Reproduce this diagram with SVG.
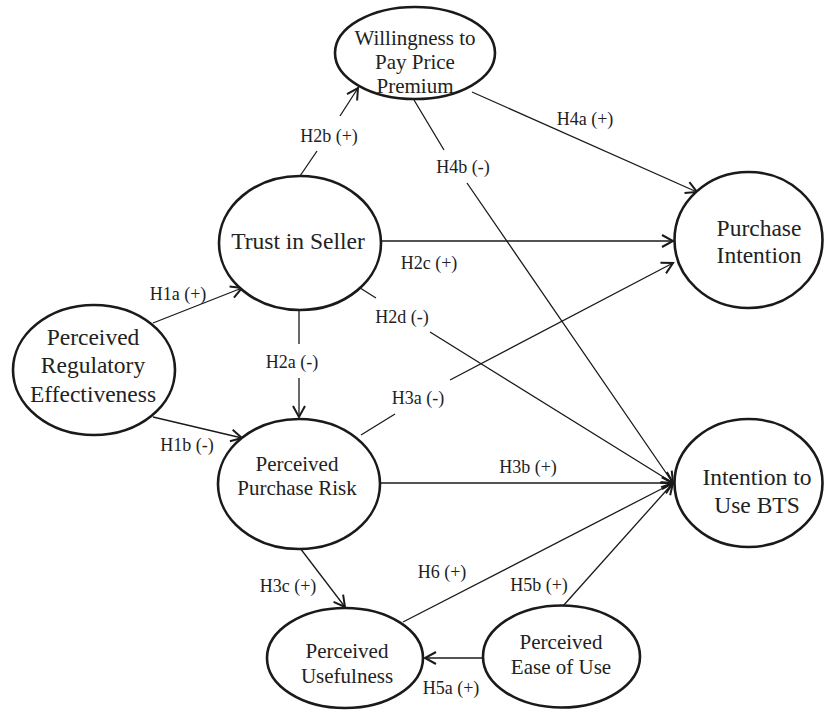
<svg xmlns="http://www.w3.org/2000/svg" width="824" height="710" viewBox="0 0 824 710">
<defs>
<style>
.node{fill:#fff;stroke:#1a1a1a;stroke-width:2.6}
text{font-family:'Liberation Serif','DejaVu Serif',serif;fill:#222;text-anchor:middle}
.big{font-size:23.5px}
.sm{font-size:21px}
.lbl{font-size:18px}
.edge{fill:none;stroke:#1a1a1a;stroke-width:1.3}
</style>
<marker id="arr" markerUnits="userSpaceOnUse" markerWidth="16" markerHeight="16" viewBox="-12 -8 14 16" refX="0" refY="0" orient="auto">
<path d="M-11,-6 L0,0 L-11,6" fill="none" stroke="#1a1a1a" stroke-width="2"/>
</marker>
</defs>
<rect width="824" height="710" fill="#fff"/>
<g id="connectors" font-family="Liberation Serif, serif">
<path class="edge" d="M153,323 L242,288" marker-end="url(#arr)"/>
<path class="edge" d="M153,417 L242,438" marker-end="url(#arr)"/>
<path class="edge" d="M299,310 L299,344 M299,378 L299,417" marker-end="url(#arr)"/>
<path class="edge" d="M300,176 L317,151 M340,116 L358,88" marker-end="url(#arr)"/>
<path class="edge" d="M380,241 L673,241" marker-end="url(#arr)"/>
<path class="edge" d="M357,286 L376,298 M430,332 L673,483" marker-end="url(#arr)"/>
<path class="edge" d="M361,435 L395,414 M450,380 L673,263" marker-end="url(#arr)"/>
<path class="edge" d="M380,483 L673,483" marker-end="url(#arr)"/>
<path class="edge" d="M300,548 L345,607" marker-end="url(#arr)"/>
<path class="edge" d="M472,92 L697,192" marker-end="url(#arr)"/>
<path class="edge" d="M414,100 L444,150 M467,183 L673,483" marker-end="url(#arr)"/>
<path class="edge" d="M483,658 L425,658" marker-end="url(#arr)"/>
<path class="edge" d="M563,606 L673,483" marker-end="url(#arr)"/>
<path class="edge" d="M403,622 L673,483" marker-end="url(#arr)"/>
<text class="lbl" x="178" y="300">H1a (+)</text>
<text class="lbl" x="187" y="451">H1b (-)</text>
<text class="lbl" x="292" y="368">H2a (-)</text>
<text class="lbl" x="329" y="142">H2b (+)</text>
<text class="lbl" x="429" y="269">H2c (+)</text>
<text class="lbl" x="402" y="323">H2d (-)</text>
<text class="lbl" x="418" y="404">H3a (-)</text>
<text class="lbl" x="528" y="473">H3b (+)</text>
<text class="lbl" x="288" y="592">H3c (+)</text>
<text class="lbl" x="585" y="125">H4a (+)</text>
<text class="lbl" x="463" y="173">H4b (-)</text>
<text class="lbl" x="451" y="694">H5a (+)</text>
<text class="lbl" x="539" y="591">H5b (+)</text>
<text class="lbl" x="442" y="578">H6 (+)</text>
</g>
<g id="wtp">
<ellipse class="node" cx="415" cy="53" rx="80" ry="46"/>
<text class="sm" x="415" y="45">Willingness to</text>
<text class="sm" x="415" y="69">Pay Price</text>
<text class="sm" x="415" y="93">Premium</text>
</g>
<g id="trust">
<ellipse class="node" cx="300" cy="243" rx="81" ry="67"/>
<text class="big" x="298" y="249">Trust in Seller</text>
</g>
<g id="pre">
<ellipse class="node" cx="94" cy="370" rx="81" ry="65"/>
<text class="big" x="93" y="345">Perceived</text>
<text class="big" x="93" y="373">Regulatory</text>
<text class="big" x="93" y="402">Effectiveness</text>
</g>
<g id="pi">
<ellipse class="node" cx="748.5" cy="240" rx="74" ry="68"/>
<text class="big" x="759" y="236">Purchase</text>
<text class="big" x="759" y="263">Intention</text>
</g>
<g id="iub">
<ellipse class="node" cx="748.5" cy="483" rx="74" ry="64"/>
<text class="big" x="757" y="485">Intention to</text>
<text class="big" x="757" y="513">Use BTS</text>
</g>
<g id="ppr">
<ellipse class="node" cx="299" cy="484" rx="81" ry="65"/>
<text class="sm" x="297" y="471">Perceived</text>
<text class="sm" x="297" y="495">Purchase Risk</text>
</g>
<g id="pu">
<ellipse class="node" cx="345" cy="658" rx="78" ry="50"/>
<text class="sm" x="347" y="658">Perceived</text>
<text class="sm" x="347" y="683">Usefulness</text>
</g>
<g id="peou">
<ellipse class="node" cx="561.5" cy="656.5" rx="78.5" ry="51"/>
<text class="sm" x="561" y="649">Perceived</text>
<text class="sm" x="561" y="674">Ease of Use</text>
</g>
</svg>
